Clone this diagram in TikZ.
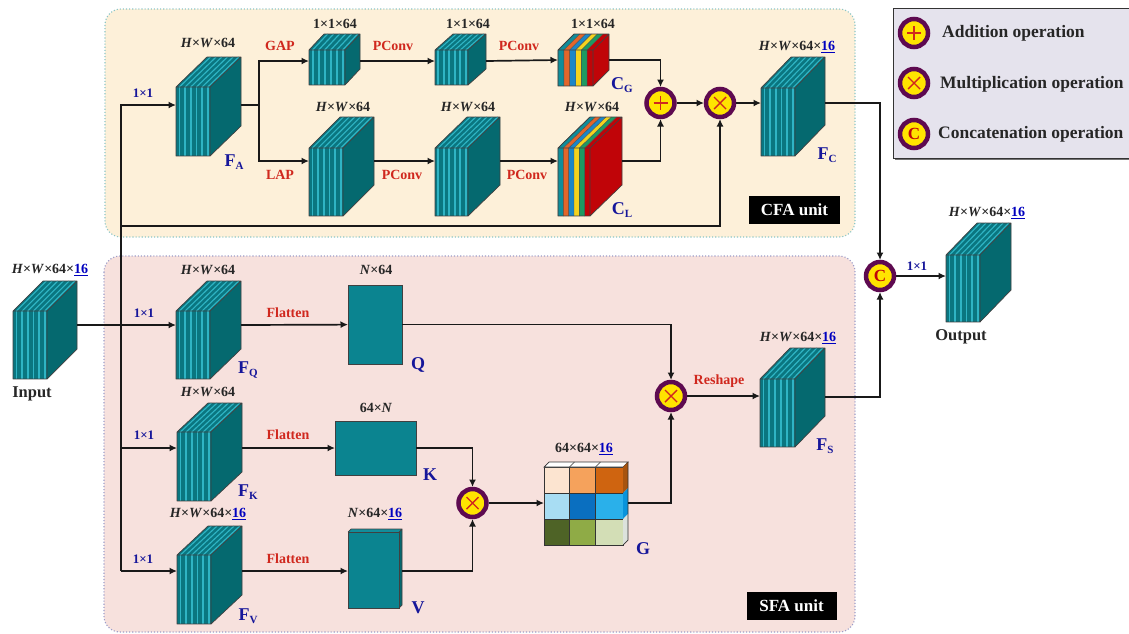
\documentclass[tikz,border=0pt]{standalone}
\usepackage{fontspec}
\setmainfont{Liberation Serif}
\usetikzlibrary{arrows.meta,calc}
\definecolor{tealf}{HTML}{0A7680}
\definecolor{teals}{HTML}{05696F}
\definecolor{cyanl}{HTML}{2FB4C4}
\definecolor{panelA}{HTML}{FDF0D9}
\definecolor{panelB}{HTML}{F7E1DD}
\definecolor{bluet}{HTML}{16169A}
\definecolor{redt}{HTML}{D0281E}
\definecolor{opring}{HTML}{5E0A50}
\definecolor{opfill}{HTML}{FFE400}
\definecolor{darkred}{HTML}{C00408}
\definecolor{gside}{HTML}{A8540F}
\definecolor{legfill}{HTML}{E5E3ED}
\definecolor{plainb}{HTML}{0B8490}
\tikzset{
 bbox/.style={inner sep=0pt,outer sep=0pt,rectangle},
 wire/.style={line width=1.7pt,draw=black!90,line join=miter},
 arr/.style={wire,-{Latex[length=7.5pt,width=7pt]}},
 panelbox/.style={rounded corners=16pt,dotted,line width=1.1pt},
 dimtxt/.style={font=\fontsize{14}{16}\selectfont\bfseries,text=black!85,inner sep=0pt},
 redl/.style={font=\fontsize{14}{16}\selectfont\bfseries,text=redt,inner sep=0pt},
 convtxt/.style={font=\fontsize{13}{15}\selectfont\bfseries,text=bluet,inner sep=0pt},
 captxt/.style={font=\fontsize{18}{20}\selectfont\bfseries,text=bluet,inner sep=0pt},
 nametxt/.style={font=\fontsize{16.5}{18}\selectfont\bfseries,text=black!85,inner sep=0pt},
 unitbox/.style={fill=black,text=white,font=\fontsize{17}{19}\selectfont\bfseries,inner sep=0pt},
 legtxt/.style={font=\fontsize{17.5}{19}\selectfont\bfseries,text=black!85,inner sep=0pt,anchor=west},
 opbase/.style={circle,draw=opring,fill=opfill,line width=4.5pt,minimum size=28pt,inner sep=0pt,outer sep=2pt},
 opplus/.style={opbase,path picture={\draw[redt,line width=1.4pt] (path picture bounding box.center) +(-7,0) -- +(7,0) +(0,-7) -- +(0,7);}},
 optimes/.style={opbase,path picture={\draw[redt,line width=1.4pt] (path picture bounding box.center) +(-6,-6) -- +(6,6) +(-6,6) -- +(6,-6);}},
 opconc/.style={opbase,font=\fontsize{17}{17}\selectfont\bfseries,text=darkred},
}
\newcommand{\dimsix}{\textit{H}×\textit{W}×64}
\newcommand{\und}{\textcolor{blue!75!black}{\underline{16}}}
\newcommand{\blab}[2]{#1\raisebox{-3pt}{\fontsize{11}{11}\selectfont #2}}
% name, x, y, w, h, dx, dy, wire y
\newcommand{\tcube}[8]{%
 \pgfmathsetmacro{\xa}{#2}\pgfmathsetmacro{\xb}{#2+#4}\pgfmathsetmacro{\xc}{#2+#4+#6}
 \pgfmathsetmacro{\ya}{#3}\pgfmathsetmacro{\yb}{#3+#5}\pgfmathsetmacro{\yt}{#3-#7}\pgfmathsetmacro{\ybb}{#3+#5-#7}
 \pgfmathsetmacro{\bw}{#4+#6}\pgfmathsetmacro{\bh}{#5+#7}
 \pgfmathsetmacro{\slab}{#4/6}
 \node[bbox,minimum width=\bw pt,minimum height=\bh pt] (#1) at ({#2+\bw/2},{\yt+\bh/2}) {};
 \coordinate (#1-l) at (\xa,#8);
 \coordinate (#1-r) at (\xc,#8);
 \fill[teals] (\xb,\ya)--(\xc,\yt)--(\xc,\ybb)--(\xb,\yb)--cycle;
 \fill[tealf] (\xa,\ya)--(\xa+#6,\yt)--(\xc,\yt)--(\xb,\ya)--cycle;
 \fill[tealf] (\xa,\ya) rectangle (\xb,\yb);
 \foreach \i in {0,...,5}{
  \pgfmathsetmacro{\sx}{\xa+(\i+0.6)*\slab}
  \draw[cyanl,line width={0.3*\slab pt}] (\sx,\ya)--(\sx,\yb);
  \draw[cyanl,line width={0.2*\slab pt}] (\sx,\ya)--({\sx+#6},\yt);
 }
 \draw[black!75,line width=.7pt,line join=round] (\xa,\ya)--(\xa,\yb)--(\xb,\yb)--(\xb,\ya)--cycle (\xa,\ya)--(\xa+#6,\yt)--(\xc,\yt)--(\xb,\ya) (\xc,\yt)--(\xc,\ybb)--(\xb,\yb);
}
% name, x, y, w, h, dx, dy, wire y  : coloured slices
\newcommand{\ccube}[8]{%
 \pgfmathsetmacro{\xa}{#2}\pgfmathsetmacro{\xb}{#2+#4}\pgfmathsetmacro{\xc}{#2+#4+#6}
 \pgfmathsetmacro{\ya}{#3}\pgfmathsetmacro{\yb}{#3+#5}\pgfmathsetmacro{\yt}{#3-#7}\pgfmathsetmacro{\ybb}{#3+#5-#7}
 \pgfmathsetmacro{\bw}{#4+#6}\pgfmathsetmacro{\bh}{#5+#7}
 \pgfmathsetmacro{\slab}{#4/6}
 \node[bbox,minimum width=\bw pt,minimum height=\bh pt] (#1) at ({#2+\bw/2},{\yt+\bh/2}) {};
 \coordinate (#1-l) at (\xa,#8);
 \coordinate (#1-r) at (\xc,#8);
 \fill[darkred] (\xb,\ya)--(\xc,\yt)--(\xc,\ybb)--(\xb,\yb)--cycle;
 \foreach \i/\c in {0/0F8D9A,1/E2662B,2/1B86C8,3/F4D21E,4/1E9A62,5/C00408}{
  \definecolor{slice}{HTML}{\c}
  \pgfmathsetmacro{\sa}{\xa+\i*\slab}\pgfmathsetmacro{\sb}{\xa+(\i+1)*\slab}
  \fill[slice] (\sa,\ya) rectangle (\sb,\yb);
  \fill[slice] (\sa,\ya)--(\sa+#6,\yt)--(\sb+#6,\yt)--(\sb,\ya)--cycle;
  \draw[black!70,line width=.4pt] (\sa,\ya)--(\sa,\yb) (\sa,\ya)--(\sa+#6,\yt);
 }
 \draw[black!75,line width=.7pt,line join=round] (\xa,\ya)--(\xa,\yb)--(\xb,\yb)--(\xb,\ya)--cycle (\xa,\ya)--(\xa+#6,\yt)--(\xc,\yt)--(\xb,\ya) (\xc,\yt)--(\xc,\ybb)--(\xb,\yb);
}
\begin{document}
\begin{tikzpicture}[x=1pt,y=-1pt]
\useasboundingbox (0,0) rectangle (1129,633);
\fill[white] (0,0) rectangle (1129,633);
% panels
\draw[panelbox,fill=panelA,draw=teal!45] (105,9) rectangle (855,237);
\draw[panelbox,fill=panelB,draw=blue!30!gray!60] (104,256) rectangle (855,632);
% legend
\fill[black!55] (895,11) rectangle (1129,160);
\node[bbox,draw=black!80,line width=1pt,fill=legfill,minimum width=236pt,minimum height=150pt] (legend) at (1011,83) {};
% cubes
\tcube{input}{13}{311}{34}{68}{30}{30}{325}
\tcube{fa}{176}{87}{34}{69}{31}{30}{105}
\tcube{ga}{309}{50}{36}{35}{15}{16}{61}
\tcube{gb}{435}{50}{33}{35}{18}{16}{61}
\ccube{cg}{558}{50}{35}{36}{16}{16}{60}
\tcube{la}{309}{148}{34}{68}{31}{31}{161}
\tcube{lb}{435}{148}{33}{68}{32}{31}{161}
\ccube{cl}{558}{148}{32}{68}{32}{31}{161}
\tcube{fc}{761}{88}{34}{68}{30}{31}{103}
\tcube{fq}{176}{311}{34}{68}{31}{30}{325}
\tcube{fk}{177}{432}{34}{69}{31}{29}{448}
\tcube{fv}{177}{555}{34}{69}{31}{29}{571}
\tcube{fs}{760}{379}{35}{68}{30}{31}{396}
\tcube{output}{946}{255}{34}{67}{31}{32}{276}
% plain blocks
\node[bbox,draw=black!75,fill=plainb,line width=.7pt,minimum width=54pt,minimum height=79pt] (q) at (375,324.5) {};
\node[bbox,draw=black!75,fill=plainb,line width=.7pt,minimum width=81pt,minimum height=54pt] (k) at (375.5,448) {};
\fill[teals] (399,532)--(402,529)--(402,605)--(399,608)--cycle;
\fill[plainb!80!cyanl] (348,532)--(351,529)--(402,529)--(399,532)--cycle;
\node[bbox,draw=black!75,fill=plainb,line width=.7pt,minimum width=51pt,minimum height=76pt] (v) at (373.5,570) {};
\draw[black!75,line width=.7pt] (348,532)--(351,529)--(402,529)--(402,605)--(399,608) (402,529)--(399,532);
\coordinate (v-l) at (348,571);
\coordinate (v-r) at (402,571);
% G tensor
\node[bbox,minimum width=84pt,minimum height=83pt] (g) at (586,503.5) {};
\foreach \xx/\yy/\w/\c in {544/467/25.5/FCE4D0,569.5/467/26/F5A25C,595.5/467/27.5/CF6410,544/493/25.5/A8DDF3,569.5/493/26/0A6FC0,595.5/493/27.5/2AB0EA,544/519/25.5/4E6326,569.5/519/26/8FAB46,595.5/519/27.5/D3DEB6}{
 \definecolor{cell}{HTML}{\c}
 \draw[fill=cell,draw=black!80,line width=.7pt] (\xx,\yy) rectangle +(\w,26);
}
\draw[black!80,line width=.7pt,fill=white] (544,467)--(549,462)--(628,462)--(623,467)--cycle;
\draw[black!80,line width=.5pt] (569.5,467)--(574.5,462) (595.5,467)--(600.5,462);
\fill[gside] (623,467)--(628,462)--(628,488)--(623,493)--cycle;
\fill[cyan!80!blue] (623,493)--(628,488)--(628,514)--(623,519)--cycle;
\fill[green!10!gray!25] (623,519)--(628,514)--(628,540)--(623,545)--cycle;
\draw[black!80,line width=.7pt] (628,462)--(628,540)--(623,545);
% operators
\node[opplus] (plus) at (660.5,103) {};
\node[optimes] (mul1) at (720,103) {};
\node[optimes] (mul2) at (472.5,503) {};
\node[optimes] (mul3) at (671,396) {};
\node[opconc] (conc) at (880,276) {C};
% wires
\coordinate (fork) at (121,105);
\coordinate (fq-fork) at (121,325);
\coordinate (fk-fork) at (121,448);
\coordinate (fbottom) at (121,571);
\coordinate (fb-fork) at (121,226);
\coordinate (split) at (259,105);
\coordinate (fs-out) at (825,397);
\draw[wire] (input-r) -- (fq-fork);
\draw[arr] (fbottom) -- (fork) -- (fa-l);
\draw[arr] (fq-fork) -- (fq-l);
\draw[arr] (fk-fork) -- (fk-l);
\draw[arr] (fbottom) -- (fv-l);
\draw[arr] (fb-fork) -| (mul1.south);
\draw[wire] (fa-r) -- (split);
\draw[arr] (split) |- (ga-l);
\draw[arr] (split) |- (la-l);
\draw[arr] (ga-r) -- (gb-l);
\draw[arr] (gb-r) -- (cg-l);
\draw[arr] (la-r) -- (lb-l);
\draw[arr] (lb-r) -- (cl-l);
\draw[arr] (cg-r) -| (plus.north);
\draw[arr] (cl-r) -| (plus.south);
\draw[arr] (plus) -- (mul1);
\draw[arr] (mul1) -- (fc-l);
\draw[arr] (fc-r) -| (conc.north);
\draw[arr] (fs-out) -| (conc.south);
\draw[arr] (conc) -- (output-l);
\draw[arr] (fq-r) -- (q);
\draw[arr] (fk-r) -- (k);
\draw[arr] (fv-r) -- (v-l);
\draw[arr] (q) -| (mul3.north);
\draw[arr] (k) -| (mul2.north);
\draw[arr] (v-r) -| (mul2.south);
\draw[arr] (mul2) -- (g.west |- mul2);
\draw[arr] (g.east |- mul2) -| (mul3.south);
\draw[arr] (mul3) -- (fs-l);
% dimensions
\node[dimtxt] (d1) at (50,270) {\dimsix×\und};
\node[dimtxt] (d2) at (208,43) {\dimsix};
\node[dimtxt] (d3) at (335,24) {1×1×64};
\node[dimtxt] (d4) at (468,24) {1×1×64};
\node[dimtxt] (d5) at (593,24) {1×1×64};
\node[dimtxt] (d6) at (343,107) {\dimsix};
\node[dimtxt] (d7) at (468,107) {\dimsix};
\node[dimtxt] (d8) at (592,107) {\dimsix};
\node[dimtxt] (d9) at (797,47) {\dimsix×\und};
\node[dimtxt] (d10) at (987,213) {\dimsix×\und};
\node[dimtxt] (d11) at (208,270) {\dimsix};
\node[dimtxt] (d12) at (208,392) {\dimsix};
\node[dimtxt] (d13) at (208,514) {\dimsix×\und};
\node[dimtxt] (d14) at (376,270) {\textit{N}×64};
\node[dimtxt] (d15) at (376,408) {64×\textit{N}};
\node[dimtxt] (d16) at (375,514) {\textit{N}×64×\und};
\node[dimtxt] (d17) at (584,449) {64×64×\und};
\node[dimtxt] (d18) at (798,338) {\dimsix×\und};
% op labels
\node[redl] (r1) at (280,46) {GAP};
\node[redl] (r2) at (280,175) {LAP};
\node[redl] (r3) at (393,46) {PConv};
\node[redl] (r4) at (402,175) {PConv};
\node[redl] (r5) at (519,46) {PConv};
\node[redl] (r6) at (527,175) {PConv};
\node[redl] (r7) at (288,313) {Flatten};
\node[redl] (r8) at (288,435) {Flatten};
\node[redl] (r9) at (288,559) {Flatten};
\node[redl] (r10) at (719,381) {Reshape};
\node[convtxt] (c1) at (143,93) {1×1};
\node[convtxt] (c2) at (144,313) {1×1};
\node[convtxt] (c3) at (144,435) {1×1};
\node[convtxt] (c4) at (143,559) {1×1};
\node[convtxt] (c5) at (917,266) {1×1};
% captions
\node[captxt] (la1) at (234,162) {\blab{F}{A}};
\node[captxt] (la2) at (622,85) {\blab{C}{G}};
\node[captxt] (la3) at (622,210) {\blab{C}{L}};
\node[captxt] (la4) at (827,155) {\blab{F}{C}};
\node[captxt] (la5) at (248,370) {\blab{F}{Q}};
\node[captxt] (la6) at (418,365) {Q};
\node[captxt] (la7) at (248,492) {\blab{F}{K}};
\node[captxt] (la8) at (430,475) {K};
\node[captxt] (la9) at (248,616) {\blab{F}{V}};
\node[captxt] (la10) at (418,608) {V};
\node[captxt] (la11) at (643,549) {G};
\node[captxt] (la12) at (825,446) {\blab{F}{S}};
\node[nametxt] (n1) at (32,394) {Input};
\node[nametxt] (n2) at (961,337) {Output};
\node[unitbox,minimum width=91pt,minimum height=28pt] (u1) at (794.5,210) {CFA unit};
\node[unitbox,minimum width=90pt,minimum height=28pt] (u2) at (791.5,606) {SFA unit};
% legend
\node[opplus] (lg1) at (914,33) {};
\node[optimes] (lg2) at (914,83) {};
\node[opconc] (lg3) at (914,134) {C};
\node[legtxt] (t1) at (942,33) {Addition operation};
\node[legtxt] (t2) at (940,84) {Multiplication operation};
\node[legtxt] (t3) at (938,134) {Concatenation operation};
\end{tikzpicture}
\end{document}
